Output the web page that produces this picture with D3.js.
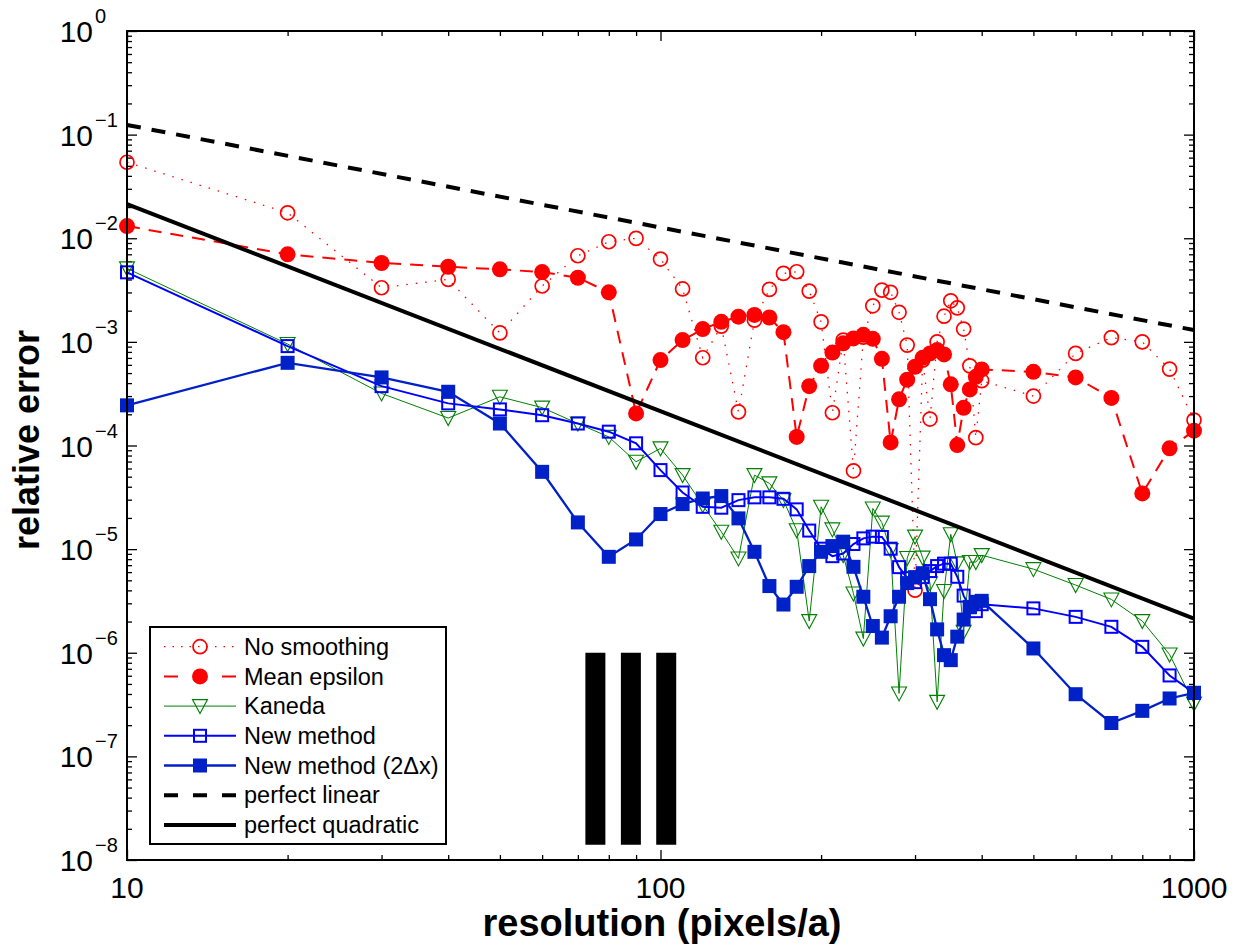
<!DOCTYPE html>
<html>
<head>
<meta charset="utf-8">
<script src="https://cdn.jsdelivr.net/npm/d3@7"></script>
<style>
  body { margin: 0; background: #fff; }
  svg { display: block; font-family: "Liberation Sans", Arial, sans-serif; }
</style>
</head>
<body>
<svg id="chart" width="1242" height="947"></svg>
<script>
const width = 1242, height = 947;

// resolutions (pixels/a) shared by every measured series
const resolution = [10, 20, 30, 40, 50, 60, 70, 80, 90, 100,
  110, 120, 130, 140, 150, 160, 170, 180, 190, 200,
  210, 220, 230, 240, 250, 260, 270, 280, 290, 300,
  310, 320, 330, 340, 350, 360, 370, 380, 390, 400,
  500, 600, 700, 800, 900, 1000];

const noSmoothing = [0.0541, 0.0176, 0.00333, 0.00401, 0.00122, 0.00346, 0.00678, 0.00925, 0.00998, 0.00630,
  0.00324, 0.000703, 0.00142, 0.000211, 0.00162, 0.00321, 0.00458, 0.00475, 0.00309, 0.00156,
  0.000207, 0.00104, 5.70e-5, 0.00111, 0.00223, 0.00316, 0.00301, 0.00193, 0.000931, 4.02e-6,
  0.000667, 0.000180, 0.00100, 0.00177, 0.00249, 0.00213, 0.00133, 0.000587, 0.000119, 0.000422,
  0.000300, 0.000774, 0.00110, 0.00100, 0.000546, 0.000176];

const meanEpsilon = [0.0131, 0.0070, 0.00577, 0.00531, 0.00501, 0.00472, 0.00416, 0.00301, 0.000204, 0.000667,
  0.00104, 0.00133, 0.00156, 0.00175, 0.00182, 0.00172, 0.00124, 0.000121, 0.000374, 0.000587,
  0.000789, 0.000968, 0.00108, 0.00117, 0.00107, 0.000686, 0.000107, 0.000279, 0.000432, 0.000575,
  0.000702, 0.000774, 0.000834, 0.000757, 0.000389, 0.000101, 0.000231, 0.000348, 0.00046, 0.000542,
  0.000514, 0.000454, 0.000288, 3.45e-5, 9.4e-5, 0.000139];

const kaneda = [0.00512, 0.000953, 0.000318, 0.000184, 0.000295, 0.000232, 0.000163, 0.000121, 6.97e-5, 9.38e-5,
  5.18e-5, 2.66e-5, 1.47e-5, 8.13e-6, 5.18e-5, 4.31e-5, 2.97e-5, 1.52e-5, 2.02e-6, 2.56e-5,
  1.55e-5, 8.75e-6, 3.73e-6, 1.37e-6, 2.47e-5, 1.80e-5, 9.77e-6, 4.05e-7, 8.2e-6, 1.32e-5,
  8.28e-6, 4.67e-6, 3.36e-7, 3.94e-6, 1.39e-5, 7.28e-6, 1.59e-6, 7.50e-6, 7.50e-6, 8.75e-6,
  6.41e-6, 4.50e-6, 3.27e-6, 2.02e-6, 9.62e-7, 3.24e-7];

const newMethod = [0.00469, 0.000910, 0.000374, 0.000255, 0.000223, 0.000196, 0.000163, 0.000136, 0.000105, 5.79e-5,
  3.52e-5, 2.56e-5, 2.51e-5, 2.97e-5, 3.16e-5, 3.16e-5, 3.06e-5, 2.42e-5, 1.51e-5, 1.01e-5,
  8.55e-6, 9.08e-6, 1.12e-5, 1.27e-5, 1.32e-5, 1.31e-5, 1.01e-5, 6.70e-6, 5.25e-6, 4.80e-6,
  5.37e-6, 6.14e-6, 6.86e-6, 7.24e-6, 7.24e-6, 5.41e-6, 3.56e-6, 2.75e-6, 2.52e-6, 2.94e-6,
  2.68e-6, 2.22e-6, 1.78e-6, 1.14e-6, 6.04e-7, 4.10e-7];

const newMethod2dx = [0.000244, 0.000628, 0.000454, 0.000330, 0.000163, 5.57e-5, 1.81e-5, 8.43e-6, 1.24e-5, 2.18e-5,
  2.72e-5, 3.08e-5, 3.25e-5, 1.98e-5, 9.42e-6, 4.40e-6, 2.92e-6, 4.33e-6, 6.86e-6, 9.42e-6,
  1.07e-5, 1.18e-5, 6.75e-6, 3.47e-6, 1.81e-6, 1.40e-6, 2.25e-6, 3.47e-6, 4.70e-6, 5.37e-6,
  5.86e-6, 3.29e-6, 1.68e-6, 9.48e-7, 8.49e-7, 1.43e-6, 2.09e-6, 2.77e-6, 3.10e-6, 3.17e-6,
  1.10e-6, 3.98e-7, 2.10e-7, 2.75e-7, 3.62e-7, 4.10e-7];

// reference slopes, end points only
const refX = [10, 1000];
const perfectLinear = [0.124, 0.0013];
const perfectQuadratic = [0.0214, 2.14e-6];

// the three black bars
const barX = [75.5, 88, 102.5];
const barRange = [1e-6, 1.4e-8];

const xTickLabels = [10, 100, 1000];
const yTickExponents = [0, -1, -2, -3, -4, -5, -6, -7, -8];

const x = d3.scaleLog().domain([10, 1000]).range([127, 1194]);
const y = d3.scaleLog().domain([1e-8, 1]).range([860, 31]);

const svg = d3.select("#chart");

// minor / major ticks for a log decade axis
function logTicks(lo, hi) {
  let major = [], minor = [];
  for (let e = lo; e <= hi; e++) {
    major.push(Math.pow(10, e));
    if (e < hi) for (let k = 2; k <= 9; k++) minor.push(k * Math.pow(10, e));
  }
  return {major, minor};
}
const xt = logTicks(1, 3), yt = logTicks(-8, 0);

function addAxis(axis, tx, ty, values, size) {
  svg.append("g")
    .attr("transform", `translate(${tx},${ty})`)
    .call(axis.tickValues(values).tickSizeInner(-size).tickSizeOuter(0).tickFormat(""))
    .call(g => g.select(".domain").remove())
    .call(g => g.selectAll("line").attr("stroke", "#000").attr("stroke-width", 1.3));
}
addAxis(d3.axisBottom(x), 0, 860, xt.major, 10);
addAxis(d3.axisBottom(x), 0, 860, xt.minor, 5);
addAxis(d3.axisTop(x), 0, 31, xt.major, 10);
addAxis(d3.axisTop(x), 0, 31, xt.minor, 5);
addAxis(d3.axisLeft(y), 127, 0, yt.major, 10);
addAxis(d3.axisLeft(y), 127, 0, yt.minor, 5);
addAxis(d3.axisRight(y), 1194, 0, yt.major, 10);
addAxis(d3.axisRight(y), 1194, 0, yt.minor, 5);

// tick labels
svg.selectAll(".xlab").data(xTickLabels).enter().append("text")
  .attr("x", d => x(d)).attr("y", 898)
  .attr("text-anchor", "middle").attr("font-size", 30)
  .text(d => d);

const ylab = svg.selectAll(".ylab").data(yTickExponents).enter().append("g");
ylab.append("text")
  .attr("x", 93).attr("y", d => y(Math.pow(10, d)) + 11)
  .attr("text-anchor", "end").attr("font-size", 30).text("10");
ylab.append("text")
  .attr("x", 95).attr("y", d => y(Math.pow(10, d)) - 8)
  .attr("font-size", 20).text(d => d === 0 ? "0" : "\u2212" + Math.abs(d));

// axis titles
svg.append("text").attr("x", 662).attr("y", 936)
  .attr("text-anchor", "middle").attr("font-size", 38).attr("font-weight", "bold")
  .text("resolution (pixels/a)");
svg.append("text").attr("transform", "translate(39,440) rotate(-90)")
  .attr("text-anchor", "middle").attr("font-size", 36).attr("font-weight", "bold")
  .text("relative error");

// marker drawing
const darkBlue = "#0020c8";
function marker(g, type, color) {
  if (type === "openCircle")
    g.append("circle").attr("r", 7).attr("fill", "none").attr("stroke", color).attr("stroke-width", 1.7);
  else if (type === "filledCircle")
    g.append("circle").attr("r", 8).attr("fill", color);
  else if (type === "triangle")
    g.append("path").attr("d", "M-7.5,-6.5L7.5,-6.5L0,7.5Z").attr("fill", "none").attr("stroke", color).attr("stroke-width", 1.1);
  else if (type === "openSquare")
    g.append("rect").attr("x", -6).attr("y", -6).attr("width", 12).attr("height", 12)
      .attr("fill", "none").attr("stroke", color).attr("stroke-width", 2);
  else if (type === "filledSquare")
    g.append("rect").attr("x", -7).attr("y", -7).attr("width", 14).attr("height", 14).attr("fill", color);
}

const series = [
  {name: "No smoothing", values: noSmoothing, color: "#ff0000", width: 1.3, dash: "1.5,8", marker: "openCircle"},
  {name: "Mean epsilon", values: meanEpsilon, color: "#ff0000", width: 2, dash: "13,9", marker: "filledCircle"},
  {name: "Kaneda", values: kaneda, color: "#008000", width: 1, dash: null, marker: "triangle"},
  {name: "New method", values: newMethod, color: "#0000ff", width: 2, dash: null, marker: "openSquare"},
  {name: "New method (2\u0394x)", values: newMethod2dx, color: darkBlue, width: 2.3, dash: null, marker: "filledSquare"}
];

const line = d3.line().x(d => x(d[0])).y(d => y(d[1]));

series.forEach(s => {
  const pts = resolution.map((r, i) => [r, s.values[i]]);
  svg.append("path").datum(pts)
    .attr("d", line).attr("fill", "none")
    .attr("stroke", s.color).attr("stroke-width", s.width)
    .attr("stroke-dasharray", s.dash);
  svg.append("g").selectAll("g").data(pts).enter().append("g")
    .attr("transform", d => `translate(${x(d[0])},${y(d[1])})`)
    .each(function() { marker(d3.select(this), s.marker, s.color); });
});

const refs = [
  {name: "perfect linear", values: perfectLinear, dash: "14,11"},
  {name: "perfect quadratic", values: perfectQuadratic, dash: null}
];
refs.forEach(r => {
  svg.append("path").datum(refX.map((v, i) => [v, r.values[i]]))
    .attr("d", line).attr("fill", "none")
    .attr("stroke", "#000").attr("stroke-width", 4)
    .attr("stroke-dasharray", r.dash);
});

// black bars
svg.selectAll(".bar").data(barX).enter().append("line")
  .attr("x1", d => x(d)).attr("x2", d => x(d))
  .attr("y1", y(barRange[0])).attr("y2", y(barRange[1]))
  .attr("stroke", "#000").attr("stroke-width", 20);

// plot box
svg.append("rect").attr("x", 127).attr("y", 31).attr("width", 1194 - 127).attr("height", 860 - 31)
  .attr("fill", "none").attr("stroke", "#000").attr("stroke-width", 2);

// legend
const legend = svg.append("g");
legend.append("rect").attr("x", 150).attr("y", 627).attr("width", 296).attr("height", 217)
  .attr("fill", "#fff").attr("stroke", "#000").attr("stroke-width", 2);

const legendItems = series.map(s => ({name: s.name, color: s.color, width: s.width,
    dash: s.marker === "openCircle" ? "1.5,7" : (s.dash ? "14,44" : null), marker: s.marker}))
  .concat(refs.map(r => ({name: r.name, color: "#000", width: 4, dash: r.dash ? "14,15" : null, marker: null})));

legendItems.forEach((d, i) => {
  const cy = 646.7 + i * 29.7;
  const g = legend.append("g").attr("transform", `translate(0,${cy})`);
  g.append("line").attr("x1", 164).attr("x2", 236)
    .attr("stroke", d.color).attr("stroke-width", d.width).attr("stroke-dasharray", d.dash);
  if (d.marker) marker(g.append("g").attr("transform", "translate(200,0)"), d.marker, d.color);
  g.append("text").attr("x", 244).attr("y", 0).attr("dy", "0.35em")
    .attr("font-size", 23.5).text(d.name);
});
</script>
</body>
</html>
